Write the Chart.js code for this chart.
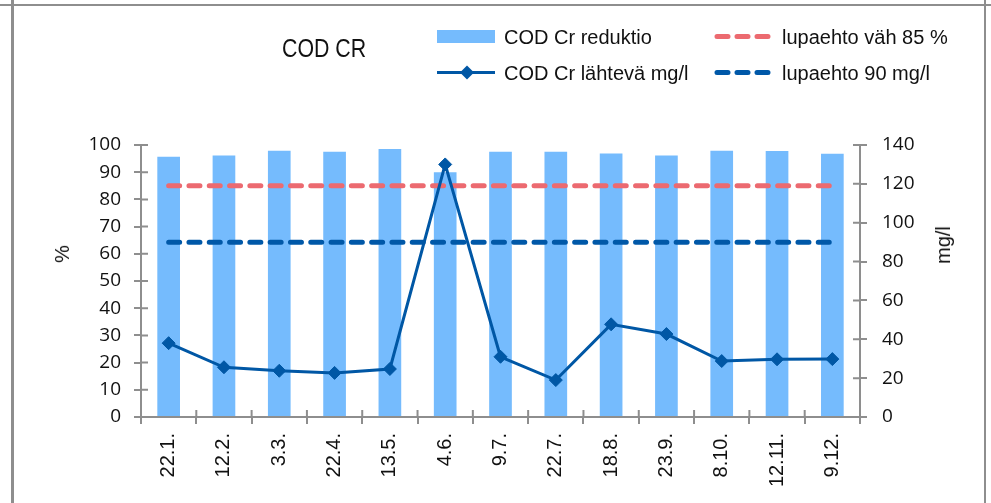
<!DOCTYPE html>
<html>
<head>
<meta charset="utf-8">
<script src="https://cdn.jsdelivr.net/npm/chart.js@4"></script>
<style>
  html, body { margin:0; padding:0; background:#fff; width:991px; height:503px; overflow:hidden; }
  #wrap { position:relative; width:991px; height:503px; }
  canvas { position:absolute; left:0; top:0; }
  .frame { position:absolute; background:#8e8e8e; }
  .txt { position:absolute; white-space:nowrap; color:#111; font-family:"Liberation Sans", Arial, sans-serif; font-size:20px; line-height:20px; }
  #title { font-size:26px; line-height:26px; transform-origin:left top; transform:scaleX(0.82); }
  .rot { transform-origin:center center; transform:translate(-50%,-50%) rotate(-90deg); }
  svg { position:absolute; left:0; top:0; }
</style>
</head>
<body>
<div id="wrap">
  <canvas id="c" width="991" height="503"></canvas>
  <div class="frame" style="left:0;top:4px;width:991px;height:2px;"></div>
  <div class="frame" style="left:11px;top:0;width:3px;height:503px;"></div>
  <div class="frame" style="left:984px;top:0;width:2px;height:503px;"></div>
  <svg width="991" height="120" id="legsvg"></svg>
  <div id="title" class="txt" style="left:282px;top:35px;">COD CR</div>
  <div id="leg"></div>
  <div class="txt rot" style="left:62px;top:254px;">%</div>
  <div class="txt rot" style="left:943px;top:245px;">mg/l</div>
</div>
<script>
// ---- data ----
const categories = ['22.1.','12.2.','3.3.','22.4.','13.5.','4.6.','9.7.','22.7.','18.8.','23.9.','8.10.','12.11.','9.12.'];
const reductionPct = [95.7, 96.1, 97.9, 97.5, 98.5, 90.0, 97.5, 97.5, 96.9, 96.1, 97.9, 97.8, 96.8];
const outflowMgL = [38, 25.6, 23.8, 22.7, 24.7, 130, 31, 19, 47.7, 42.7, 28.8, 29.7, 29.8];
const limitPct = categories.map(() => 85);
const limitMgL = categories.map(() => 90);
const leftTicks = { min: 0, max: 100, step: 10 };
const rightTicks = { min: 0, max: 140, step: 20 };
const seriesNames = ['COD Cr reduktio', 'COD Cr lähtevä mg/l', 'lupaehto väh 85 %', 'lupaehto 90 mg/l'];

const barColor = '#75bbfd';
const lineColor = '#0057a5';
const redDash = '#ec6a70';
const blueDash = '#0058a8';
const axisColor = '#8e8e8e';

// ---- legend (HTML/SVG) ----
const svg = document.getElementById('legsvg');
svg.innerHTML =
  `<rect x="437" y="30" width="58" height="13" fill="${barColor}"/>` +
  `<line x1="717" y1="36.5" x2="770" y2="36.5" stroke="${redDash}" stroke-width="5" stroke-linecap="round" stroke-dasharray="11 9"/>` +
  `<line x1="437" y1="72.5" x2="495" y2="72.5" stroke="${lineColor}" stroke-width="3"/>` +
  `<path d="M467 65.5 L474 72.5 L467 79.5 L460 72.5 Z" fill="${lineColor}"/>` +
  `<line x1="717" y1="72.5" x2="770" y2="72.5" stroke="${blueDash}" stroke-width="5" stroke-linecap="round" stroke-dasharray="11 9"/>`;
const leg = document.getElementById('leg');
const legPos = [[504,27],[504,63],[782,27],[782,63]];
seriesNames.forEach((n,i) => {
  const d = document.createElement('div');
  d.className = 'txt';
  d.style.left = legPos[i][0] + 'px';
  d.style.top = legPos[i][1] + 'px';
  d.textContent = n;
  leg.appendChild(d);
});

// ---- crossing tick marks plugin ----
const innerTicks = {
  id: 'innerTicks',
  afterDraw(chart) {
    const ctx = chart.ctx, a = chart.chartArea;
    ctx.save();
    ctx.strokeStyle = axisColor;
    ctx.lineWidth = 2;
    ctx.beginPath();
    const y = chart.scales.y, y1 = chart.scales.y1;
    y.ticks.forEach(t => { const p = y.getPixelForValue(t.value); ctx.moveTo(a.left, p); ctx.lineTo(a.left + 7, p); });
    y1.ticks.forEach(t => { const p = y1.getPixelForValue(t.value); ctx.moveTo(a.right - 7, p); ctx.lineTo(a.right, p); });
    const n = categories.length, w = (a.right - a.left) / n;
    for (let i = 0; i <= n; i++) { const p = a.left + i * w; ctx.moveTo(p, a.bottom); ctx.lineTo(p, a.bottom - 7); }
    ctx.stroke();
    ctx.restore();
  }
};

const tickFont = { family: '"Open Sans", "Noto Sans", sans-serif', size: 19 };

new Chart(document.getElementById('c'), {
  type: 'bar',
  data: {
    labels: categories,
    datasets: [
      { type: 'bar', label: seriesNames[0], data: reductionPct, yAxisID: 'y', backgroundColor: barColor,
        barPercentage: 0.41, categoryPercentage: 1, order: 3 },
      { type: 'line', label: seriesNames[2], data: limitPct, yAxisID: 'y', borderColor: redDash, borderWidth: 5,
        borderDash: [11, 9.3], borderCapStyle: 'round', pointRadius: 0, fill: false, order: 2 },
      { type: 'line', label: seriesNames[3], data: limitMgL, yAxisID: 'y1', borderColor: blueDash, borderWidth: 5,
        borderDash: [11, 9.3], borderCapStyle: 'round', pointRadius: 0, fill: false, order: 1 },
      { type: 'line', label: seriesNames[1], data: outflowMgL, yAxisID: 'y1', borderColor: lineColor, borderWidth: 3,
        pointStyle: 'rectRot', pointRadius: 6.5, pointBackgroundColor: lineColor, pointBorderColor: lineColor,
        pointBorderWidth: 1, tension: 0, fill: false, order: 0 }
    ]
  },
  options: {
    responsive: false,
    animation: false,
    events: [],
    layout: { padding: { top: 145, left: 0, right: 0, bottom: 0 } },
    plugins: { legend: { display: false }, title: { display: false }, tooltip: { enabled: false } },
    scales: {
      x: {
        offset: true,
        grid: { offset: true, drawOnChartArea: false, drawTicks: true, tickLength: 7, color: axisColor, lineWidth: 2 },
        border: { display: true, color: axisColor, width: 2 },
        ticks: { autoSkip: false, minRotation: 90, maxRotation: 90, padding: 9, color: '#111',
                 font: { family: '"Liberation Sans", Arial, sans-serif', size: 20 } },
        afterFit(s) { s.height = 86; }
      },
      y: {
        position: 'left', min: leftTicks.min, max: leftTicks.max,
        grid: { drawOnChartArea: false, drawTicks: true, tickLength: 7, color: axisColor, lineWidth: 2 },
        border: { display: true, color: axisColor, width: 2 },
        ticks: { stepSize: leftTicks.step, padding: 13, color: '#111', font: tickFont },
        afterFit(s) { s.width = 141; }
      },
      y1: {
        position: 'right', min: rightTicks.min, max: rightTicks.max,
        grid: { drawOnChartArea: false, drawTicks: true, tickLength: 7, color: axisColor, lineWidth: 2 },
        border: { display: true, color: axisColor, width: 2 },
        ticks: { stepSize: rightTicks.step, padding: 15, color: '#111', font: tickFont },
        afterFit(s) { s.width = 131; }
      }
    }
  },
  plugins: [innerTicks]
});
</script>
</body>
</html>
